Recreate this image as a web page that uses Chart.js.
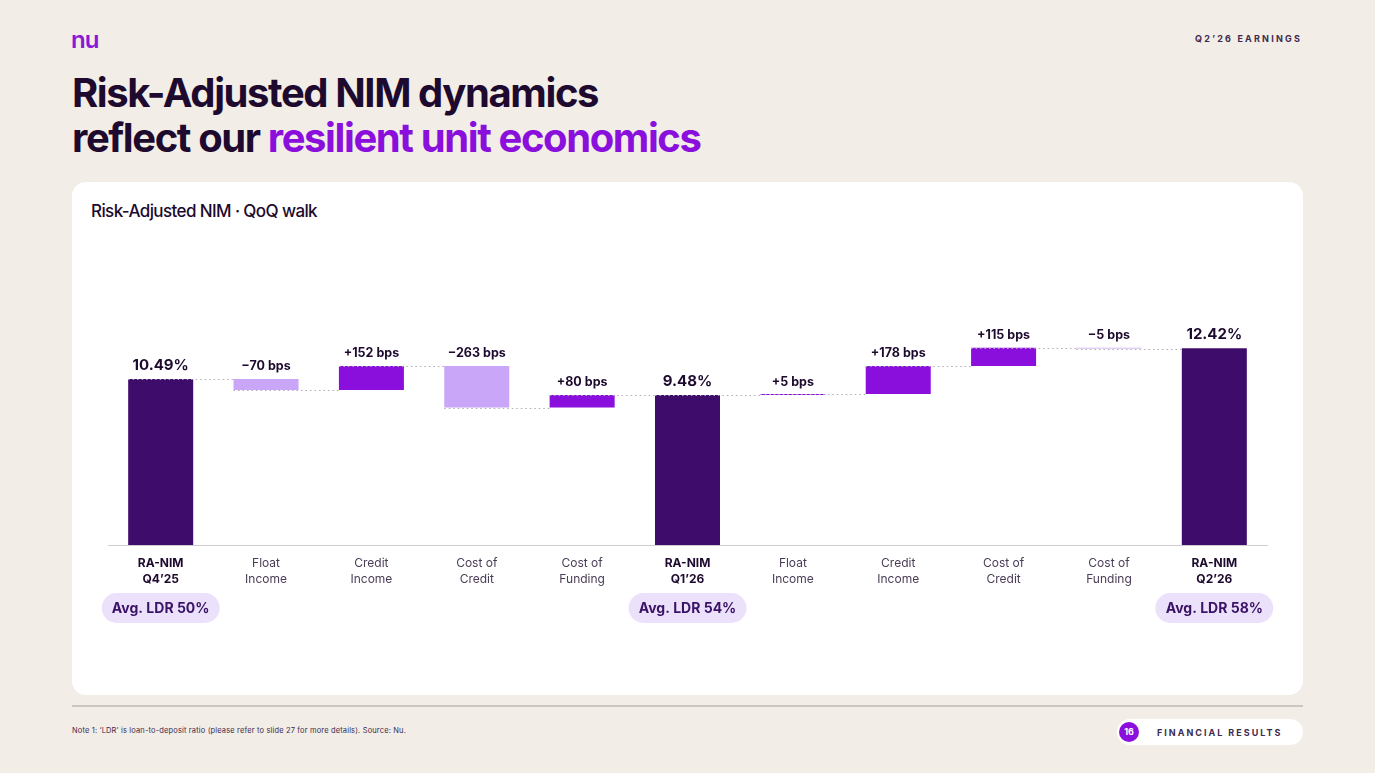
<!DOCTYPE html>
<html>
<head>
<meta charset="utf-8">
<script src="https://cdn.jsdelivr.net/npm/chart.js@4"></script>
<style>
  html, body { margin: 0; padding: 0; }
  body {
    width: 1375px; height: 773px; background: #f2ede6; position: relative; overflow: hidden;
    font-family: Inter, "Noto Sans", sans-serif; color: #1d0a2e;
  }
  .logo { position: absolute; left: 71px; top: 25px; font-size: 24px; font-weight: 600; color: #8a19d6; letter-spacing: -1px; }
  .tag { position: absolute; right: 73px; top: 33px; font-size: 9px; font-weight: 700; letter-spacing: 2.2px; color: #3d2a4f; }
  h1 { position: absolute; left: 72px; top: 70px; margin: 0; font-size: 40px; line-height: 45px; font-weight: 700; letter-spacing: -1.4px; color: #1d0a2e; }
  h1 span { color: #8a0fdc; }
  .card { position: absolute; left: 72px; top: 182px; width: 1231px; height: 513px; background: #fff; border-radius: 14px; overflow: hidden; }
  .card .ct { position: absolute; left: 19px; top: 19px; font-size: 17px; font-weight: 500; letter-spacing: -0.6px; color: #1d0a2e; }
  .card canvas { position: absolute; left: 0; top: 0; }
  .rule { position: absolute; left: 72px; top: 705px; width: 1231px; height: 2px; background: #cbc6c0; }
  .note { position: absolute; left: 72px; top: 726px; font-size: 7.5px; letter-spacing: 0.15px; color: #3d2a4f; }
  .page { position: absolute; left: 1117px; top: 719px; width: 186px; height: 26px; background: #fff; border-radius: 13px; }
  .page .num { position: absolute; left: 2px; top: 3px; width: 20px; height: 20px; border-radius: 10px; background: #8a0fdc; color: #fff; font-size: 9px; font-weight: 700; text-align: center; line-height: 20px; }
  .page .lbl { position: absolute; left: 40px; top: 8px; font-size: 9px; font-weight: 700; letter-spacing: 2px; color: #3d2a4f; }
</style>
</head>
<body>
<div class="logo">nu</div>
<div class="tag">Q2’26 EARNINGS</div>
<h1>Risk-Adjusted NIM dynamics<br>reflect our <span>resilient unit economics</span></h1>
<div class="card">
  <div class="ct">Risk-Adjusted NIM · QoQ walk</div>
  <canvas id="walk" width="1231" height="513"></canvas>
</div>
<div class="rule"></div>
<div class="note">Note 1: ‘LDR’ is loan-to-deposit ratio (please refer to slide 27 for more details). Source: Nu.</div>
<div class="page"><div class="num">16</div><div class="lbl">FINANCIAL RESULTS</div></div>

<script>
// categories and values
const categories = [
    ["RA-NIM", "Q4’25"], ["Float", "Income"], ["Credit", "Income"], ["Cost of", "Credit"], ["Cost of", "Funding"],
    ["RA-NIM", "Q1’26"], ["Float", "Income"], ["Credit", "Income"], ["Cost of", "Credit"], ["Cost of", "Funding"],
    ["RA-NIM", "Q2’26"]
];
const kinds = ["total", "delta", "delta", "delta", "delta", "total", "delta", "delta", "delta", "delta", "total"];
const values = [10.49, -0.70, 1.52, -2.63, 0.80, 9.48, 0.05, 1.78, 1.15, -0.05, 12.42];
const valueLabels = ["10.49%", "−70 bps", "+152 bps", "−263 bps", "+80 bps", "9.48%", "+5 bps", "+178 bps", "+115 bps", "−5 bps", "12.42%"];
const ldrLabels = ["Avg. LDR 50%", "", "", "", "", "Avg. LDR 54%", "", "", "", "", "Avg. LDR 58%"];

const DARK = "#3e0c6b";
const UP = "#8a0fdc";
const DOWN = "#c9a6f7";

// build floating ranges for the waterfall
let level = 0;
const ranges = values.map((v, i) => {
    if (kinds[i] === "total") {
        level = v;
        return [0, v];
    }
    const r = [level, level + v];
    level += v;
    return r;
});
const colors = values.map((v, i) => kinds[i] === "total" ? DARK : (v >= 0 ? UP : DOWN));

const walkPlugin = {
    id: "walk",
    afterDatasetsDraw(chart) {
        const ctx = chart.ctx;
        const meta = chart.getDatasetMeta(0);
        const x = chart.scales.x;
        const y = chart.scales.y;

        // dotted connectors
        ctx.save();
        ctx.strokeStyle = "#b3abbb";
        ctx.lineWidth = 1;
        ctx.setLineDash([1.5, 3]);
        for (let i = 0; i < ranges.length - 1; i++) {
            const end = ranges[i][1];
            const yy = Math.round(y.getPixelForValue(end)) + 0.5;
            const a = meta.data[i], b = meta.data[i + 1];
            ctx.beginPath();
            ctx.moveTo(a.x - a.width / 2, yy);
            ctx.lineTo(b.x - b.width / 2, yy);
            ctx.stroke();
        }
        ctx.restore();

        // value labels above bars
        ctx.save();
        ctx.textAlign = "center";
        ctx.textBaseline = "bottom";
        ctx.fillStyle = "#1d0a2e";
        ranges.forEach((r, i) => {
            const top = y.getPixelForValue(Math.max(r[0], r[1]));
            ctx.font = kinds[i] === "total" ? "700 15px Inter" : "700 12.5px Inter";
            ctx.fillText(valueLabels[i], meta.data[i].x, top - 6);
        });
        ctx.restore();

        // Avg. LDR pills under the totals
        ctx.save();
        ctx.font = "700 14px Inter";
        ctx.textAlign = "center";
        ctx.textBaseline = "middle";
        const py = y.getPixelForValue(0) + 63;
        ldrLabels.forEach((t, i) => {
            if (!t) return;
            const cx = x.getPixelForValue(i);
            const w = 118, h = 30;
            ctx.fillStyle = "#ece1fb";
            ctx.beginPath();
            ctx.roundRect(cx - w / 2, py - h / 2, w, h, 15);
            ctx.fill();
            ctx.fillStyle = "#3a1266";
            ctx.fillText(t, cx, py + 1);
        });
        ctx.restore();
    }
};

new Chart(document.getElementById("walk"), {
    type: "bar",
    data: {
        labels: categories,
        datasets: [{
            data: ranges,
            backgroundColor: colors,
            borderWidth: 0,
            borderSkipped: false,
            barPercentage: 0.617,
            categoryPercentage: 1
        }]
    },
    options: {
        responsive: false,
        animation: false,
        layout: { padding: { left: 36, right: 36, top: 78, bottom: 0 } },
        plugins: { legend: { display: false }, tooltip: { enabled: false } },
        scales: {
            x: {
                grid: { display: false },
                border: { display: true, color: "#cfcbd3", width: 1 },
                afterFit: s => { s.height = 150; },
                ticks: {
                    padding: 2,
                    maxRotation: 0,
                    autoSkip: false,
                    color: ctx => kinds[ctx.index] === "total" ? "#1d0a2e" : "#4a3b57",
                    font: ctx => ({ family: "Inter", size: 12, lineHeight: 1.35, weight: kinds[ctx.index] === "total" ? "700" : "400" })
                }
            },
            y: {
                display: false,
                min: 0,
                max: 18
            }
        }
    },
    plugins: [walkPlugin]
});
</script>
</body>
</html>
